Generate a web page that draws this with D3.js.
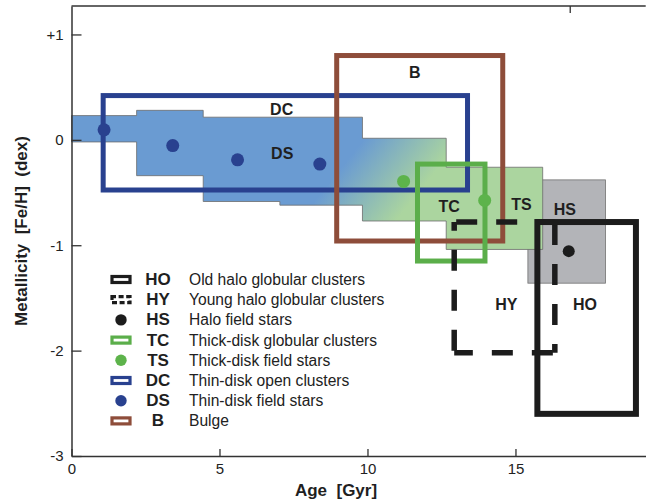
<!DOCTYPE html>
<html>
<head>
<meta charset="utf-8">
<script src="https://cdn.jsdelivr.net/npm/d3@7"></script>
<style>
  html, body { margin: 0; padding: 0; background: #fff; }
  svg { display: block; font-family: "Liberation Sans", Arial, Helvetica, sans-serif; }
</style>
</head>
<body>
<svg id="chart" width="646" height="501"></svg>
<script>
// ---------- data ----------
const xTicks = [0, 5, 10, 15];
const xTickLabels = ["0", "5", "10", "15"];
const topTicks = [16.85];
const yTicks = [1, 0, -1, -2, -3];
const yTickLabels = ["+1", "0", "-1", "-2", "-3"];

// disk field-star region (thin disk -> thick disk), step outline
const diskRegionAge = [0, 2.2, 2.2, 4.45, 4.45, 9.83, 9.83, 12.66, 12.66, 15.92, 15.92, 12.66, 12.66, 9.83, 9.83, 7.04, 7.04, 4.45, 4.45, 2.2, 2.2, 0];
const diskRegionMet = [0.23, 0.23, 0.28, 0.28, 0.215, 0.215, 0.015, 0.015, -0.26, -0.26, -1.04, -1.04, -0.77, -0.77, -0.62, -0.62, -0.585, -0.585, -0.34, -0.34, -0.02, -0.02];

// halo field-star region
const haloRegionAge = [15.42, 18.04];
const haloRegionMet = [-0.38, -1.36];

// boxes
const boxCodes   = ["DC", "B", "TC", "HY", "HO"];
const boxAgeMin  = [1.07, 8.96, 11.69, 12.93, 15.74];
const boxAgeMax  = [13.38, 14.57, 13.97, 16.33, 19.07];
const boxMetMax  = [0.42, 0.80, -0.23, -0.78, -0.78];
const boxMetMin  = [-0.476, -0.96, -1.15, -2.02, -2.60];

// field-star points
const dsAge = [1.1, 3.42, 5.61, 8.39];
const dsMet = [0.095, -0.054, -0.19, -0.23];
const tsAge = [11.22, 13.96];
const tsMet = [-0.395, -0.575];
const hsAge = [16.8];
const hsMet = [-1.056];

// in-plot labels
const labelText = ["DC", "DS", "B", "TC", "TS", "HS", "HY", "HO"];
const labelAge  = [7.1, 7.12, 11.6, 12.76, 15.2, 16.67, 14.69, 17.35];
const labelMet  = [0.29, -0.13, 0.64, -0.63, -0.615, -0.665, -1.565, -1.565];

// legend
const legendCodes = ["HO", "HY", "HS", "TC", "TS", "DC", "DS", "B"];
const legendDesc = ["Old halo globular clusters", "Young halo globular clusters", "Halo field stars",
  "Thick-disk globular clusters", "Thick-disk field stars", "Thin-disk open clusters",
  "Thin-disk field stars", "Bulge"];
const legendKind = ["box", "dash", "dot", "box", "dot", "box", "dot", "box"];

// ---------- styles ----------
const colors = { HO: "#1c1c1c", HY: "#1c1c1c", HS: "#1c1c1c", TC: "#5bae4a", TS: "#5db34b",
                 DC: "#29418f", DS: "#29418f", B: "#8e4d3a" };
const boxWidth = { DC: 5, B: 5, TC: 5, HY: 5.5, HO: 6 };

// ---------- scales ----------
const svg = d3.select("#chart");
const x = d3.scaleLinear().domain([0, 19.4]).range([71.5, 645.7]);
const y = d3.scaleLinear().domain([-3, 1.27]).range([456, 6]);

// gradient for disk region
const defs = svg.append("defs");
const grad = defs.append("linearGradient").attr("id", "diskGrad")
  .attr("gradientUnits", "userSpaceOnUse")
  .attr("x1", x(9.3)).attr("y1", y(-0.2))
  .attr("x2", x(11.3)).attr("y2", y(-0.65));
grad.append("stop").attr("offset", 0).attr("stop-color", "#6a9bd2");
grad.append("stop").attr("offset", 1).attr("stop-color", "#abd59f");

// halo field region (under)
svg.append("rect")
  .attr("x", x(haloRegionAge[0])).attr("y", y(haloRegionMet[0]))
  .attr("width", x(haloRegionAge[1]) - x(haloRegionAge[0]))
  .attr("height", y(haloRegionMet[1]) - y(haloRegionMet[0]))
  .attr("fill", "#b3b4b8").attr("stroke", "#707070").attr("stroke-width", 0.8);

// disk region polygon
const diskPts = diskRegionAge.map((a, i) => [x(a), y(diskRegionMet[i])]);
svg.append("path")
  .attr("d", d3.line()(diskPts) + "Z")
  .attr("fill", "url(#diskGrad)").attr("stroke", "#6c6c6c").attr("stroke-width", 0.8);

// axes
const axisColor = "#333";
const gx = svg.append("g").attr("transform", `translate(0,${y(-3)})`)
  .call(d3.axisBottom(x).tickValues(xTicks).tickFormat((d, i) => xTickLabels[i])
    .tickSizeInner(-7).tickSizeOuter(0).tickPadding(7));
const gy = svg.append("g").attr("transform", `translate(${x(0)},0)`)
  .call(d3.axisLeft(y).tickValues(yTicks).tickFormat((d, i) => yTickLabels[i])
    .tickSizeInner(-10).tickSizeOuter(0).tickPadding(8));
[gx, gy].forEach(g => {
  g.select(".domain").attr("stroke", axisColor).attr("stroke-width", 1.5);
  g.selectAll(".tick line").attr("stroke", axisColor).attr("stroke-width", 1.3);
  g.selectAll(".tick text").attr("fill", "#222").attr("font-size", 15)
    .attr("font-family", "'Liberation Sans', Arial, sans-serif");
});
// top frame
svg.append("line").attr("x1", x(0)).attr("x2", x(19.4)).attr("y1", y(1.27)).attr("y2", y(1.27))
  .attr("stroke", axisColor).attr("stroke-width", 1.5);
svg.selectAll(".topTick").data(topTicks).enter().append("line")
  .attr("x1", d => x(d)).attr("x2", d => x(d)).attr("y1", y(1.27)).attr("y2", y(1.27) + 7)
  .attr("stroke", axisColor).attr("stroke-width", 1.3);

// boxes
boxCodes.forEach((code, i) => {
  const x0 = x(boxAgeMin[i]), x1 = x(boxAgeMax[i]), y0 = y(boxMetMax[i]), y1 = y(boxMetMin[i]);
  if (code === "HY") {
    const sides = [[x0, y0, x1, y0], [x1, y0, x1, y1], [x1, y1, x0, y1], [x0, y1, x0, y0]];
    sides.forEach(s => {
      svg.append("line").attr("x1", s[0]).attr("y1", s[1]).attr("x2", s[2]).attr("y2", s[3])
        .attr("stroke", colors[code]).attr("stroke-width", boxWidth[code])
        .attr("stroke-dasharray", "21,19").attr("stroke-dashoffset", -2);
    });
  } else {
    svg.append("rect").attr("x", x0).attr("y", y0).attr("width", x1 - x0).attr("height", y1 - y0)
      .attr("fill", "none").attr("stroke", colors[code]).attr("stroke-width", boxWidth[code]);
  }
});

// dots
function dots(ages, mets, color, r) {
  svg.append("g").selectAll("circle").data(ages).enter().append("circle")
    .attr("cx", d => x(d)).attr("cy", (d, i) => y(mets[i])).attr("r", r).attr("fill", color);
}
dots(dsAge, dsMet, colors.DS, 6.5);
dots(tsAge, tsMet, colors.TS, 6.5);
dots(hsAge, hsMet, colors.HS, 6);

// in-plot labels
svg.append("g").selectAll("text").data(labelText).enter().append("text")
  .attr("x", (d, i) => x(labelAge[i])).attr("y", (d, i) => y(labelMet[i]))
  .attr("text-anchor", "middle").attr("dominant-baseline", "central")
  .attr("font-size", 16).attr("font-weight", "bold").attr("fill", "#1f1f1f")
  .text(d => d);

// axis titles
svg.append("text").attr("x", 336).attr("y", 490).attr("text-anchor", "middle")
  .attr("dominant-baseline", "central").attr("font-size", 17).attr("font-weight", "bold")
  .attr("fill", "#1f1f1f").attr("xml:space", "preserve").text("Age  [Gyr]");
svg.append("text").attr("transform", "translate(21,231) rotate(-90)").attr("text-anchor", "middle")
  .attr("dominant-baseline", "central").attr("font-size", 17).attr("font-weight", "bold")
  .attr("fill", "#1f1f1f").attr("xml:space", "preserve").text("Metallicity  [Fe/H]  (dex)");

// legend
const legX = 121, legY0 = 279.5, legDy = 20.2;
const leg = svg.append("g");
legendCodes.forEach((code, i) => {
  const cy = legY0 + i * legDy;
  const k = legendKind[i];
  if (k === "box" || k === "dash") {
    const r = leg.append("rect").attr("x", legX - 9).attr("y", cy - 3).attr("width", 18).attr("height", 6)
      .attr("fill", "#fff").attr("stroke", colors[code]).attr("stroke-width", 3.2);
    if (k === "dash") r.attr("stroke-dasharray", "5,2.6").attr("stroke-dashoffset", 1);
  } else {
    leg.append("circle").attr("cx", legX).attr("cy", cy).attr("r", 5.7).attr("fill", colors[code]);
  }
  leg.append("text").attr("x", 158).attr("y", cy).attr("text-anchor", "middle")
    .attr("dominant-baseline", "central").attr("font-size", 17).attr("font-weight", "bold")
    .attr("fill", "#1f1f1f").text(code);
  leg.append("text").attr("x", 189).attr("y", cy).attr("dominant-baseline", "central")
    .attr("font-size", 15.6).attr("fill", "#222").text(legendDesc[i]);
});
</script>
</body>
</html>
